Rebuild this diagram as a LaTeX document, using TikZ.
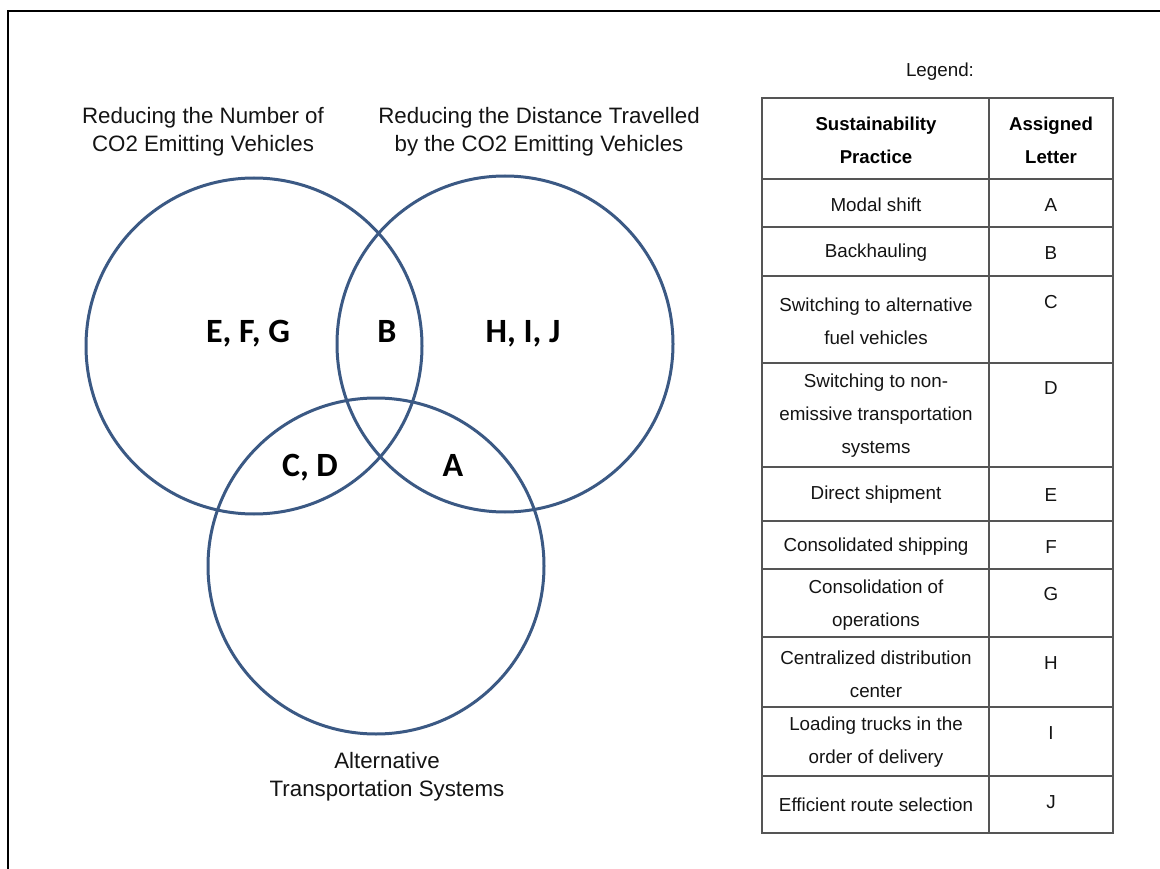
\documentclass[tikz,border=0pt]{standalone}
\usepackage{fontspec}
\setmainfont{Liberation Sans}
\newfontfamily\letterfont{Carlito}
\usetikzlibrary{positioning}
\definecolor{venn}{RGB}{59,89,132}
\definecolor{rule}{RGB}{85,85,85}
\definecolor{ink}{RGB}{20,20,20}

\begin{document}
\begin{tikzpicture}[x=1pt,y=-1pt,
    set/.style={circle, draw=venn, line width=3pt, minimum size=336pt, inner sep=0pt},
    title/.style={align=center, text=ink, font=\fontsize{22.3}{28}\selectfont},
    letters/.style={anchor=base, text=black, font=\letterfont\bfseries\fontsize{34}{38}\selectfont},
    cell/.style={align=center, text=ink, font=\fontsize{18.8}{33}\selectfont},
    head/.style={align=center, text=black, font=\bfseries\fontsize{18.6}{33}\selectfont}]
        \useasboundingbox (0,0) rectangle (1160,869);
        % frame
        \draw[line width=2pt] (8,869) -- (8,11) -- (1160,11);

        % venn
        \node[set] (number) at (254,346) {};
        \node[set] (distance) at (505,344) {};
        \node[set] (alt) at (376,566) {};

        \node[title] (tnumber) at (203,132) {Reducing the Number of\\CO2 Emitting Vehicles};
        \node[title] (tdistance) at (539,132) {Reducing the Distance Travelled\\by the CO2 Emitting Vehicles};
        \node[title] (talt) at (387,777) {Alternative\\Transportation Systems};

        \node[letters] (efg) at (248,342) {E, F, G};
        \node[letters] (b) at (387,342) {B};
        \node[letters] (hij) at (523,342) {H, I, J};
        \node[letters] (cd) at (310,476) {C, D};
        \node[letters] (a) at (453,476) {A};

        % legend table
        \node[cell] (legend) at (940,72) {Legend:};
        \draw[rule, line width=1.5pt] (762,98) rectangle (1113,833);
        \draw[rule, line width=1.5pt] (989,98) -- (989,833);
        \foreach \y in {179,227,276,363,467,521,569,637,707,776}
            \draw[rule, line width=1.5pt] (762,\y) -- (1113,\y);

        \node[head] (hpractice) at (876,140) {Sustainability\\Practice};
        \node[head] (hletter) at (1051,140) {Assigned\\Letter};

        \node[cell] (pa) at (876,205) {Modal shift};
        \node[cell] (la) at (1051,205) {A};
        \node[cell] (pb) at (876,253) {Backhauling};
        \node[cell] (lb) at (1051,253) {B};
        \node[cell] (pc) at (876,321) {Switching to alternative\\fuel vehicles};
        \node[cell] (lc) at (1051,302) {C};
        \node[cell] (pd) at (876,416) {Switching to non-\\emissive transportation\\systems};
        \node[cell] (ld) at (1051,388) {D};
        \node[cell] (pe) at (876,495) {Direct shipment};
        \node[cell] (le) at (1051,495) {E};
        \node[cell] (pf) at (876,547) {Consolidated shipping};
        \node[cell] (lf) at (1051,547) {F};
        \node[cell] (pg) at (876,605) {Consolidation of\\operations};
        \node[cell] (lg) at (1051,594) {G};
        \node[cell] (ph) at (876,674) {Centralized distribution\\center};
        \node[cell] (lh) at (1051,663) {H};
        \node[cell] (pi) at (876,742) {Loading trucks in the\\order of delivery};
        \node[cell] (li) at (1051,733) {I};
        \node[cell] (pj) at (876,805) {Efficient route selection};
        \node[cell] (lj) at (1051,802) {J};
\end{tikzpicture}
\end{document}
